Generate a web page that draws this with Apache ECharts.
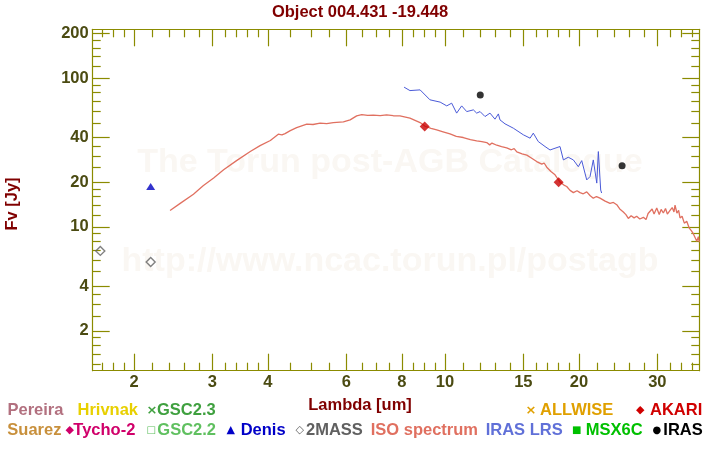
<!DOCTYPE html>
<html><head><meta charset="utf-8">
<script src="https://cdn.jsdelivr.net/npm/echarts@6/dist/echarts.min.js"></script>
<style>html,body{margin:0;padding:0;background:#fff}#c{width:720px;height:450px}</style>
</head><body><div id="c"></div>
<script>
// ---------- data (wavelength in um, flux in Jy) ----------
const isoSpectrum = [
 [2.41,12.9],[2.54,14.4],[2.72,16.6],[2.86,18.9],[3.02,21.3],[3.18,24.2],[3.40,27.9],[3.65,32.1],
 [3.84,35.2],[4.05,38.1],[4.22,42.0],[4.30,41.6],[4.37,42.4],[4.49,44.4],[4.64,46.5],[4.89,49.1],
 [5.05,48.8],[5.24,49.8],[5.42,49.4],[5.61,50.3],[5.91,50.8],[6.12,52.4],[6.33,55.8],[6.50,56.9],
 [6.70,56.2],[6.90,56.4],[7.15,56.0],[7.39,56.7],[7.65,55.9],[7.92,55.8],[8.34,53.8],[8.79,50.3],
 [9.02,47.5],[9.30,46.0],[9.58,44.9],[9.90,43.6],[10.26,42.2],[10.60,40.6],[10.99,39.9],[11.40,38.6],
 [11.78,37.9],[12.10,37.4],[12.41,36.9],[12.60,35.6],[12.75,36.6],[13.07,35.4],[13.40,34.6],[13.76,34.0],
 [14.10,33.0],[14.30,33.6],[14.50,31.9],[14.90,31.0],[15.27,30.4],[15.60,29.2],[16.07,27.5],[16.50,26.4],[16.70,26.9],[16.93,25.2],
 [17.30,23.6],[17.67,22.4],[18.13,20.0],[18.50,19.1],[18.77,18.7],[19.10,17.6],[19.43,17.0],[19.80,17.5],
 [20.11,17.0],[20.45,16.7],[20.82,17.2],[21.20,16.2],[21.54,15.6],[21.90,16.0],[22.30,15.6],[22.90,14.9],
 [23.49,14.4],[23.90,14.6],[24.32,14.1],[24.70,13.2],[25.16,12.6],[25.50,12.1],[25.82,11.4],[26.20,11.9],
 [26.60,11.5],[26.96,11.8],[27.40,11.3],[27.91,11.6],[28.30,11.2],[28.60,12.3],[28.89,12.0],[29.20,13.2],
 [29.50,12.2],[29.91,13.4],[30.30,12.1],[30.60,13.1],[30.95,12.4],[31.30,13.3],[31.60,12.2],[32.04,12.9],
 [32.40,13.5],[32.70,12.6],[32.88,14.0],[33.20,12.4],[33.50,12.9],[33.74,11.5],[34.10,11.8],[34.50,10.6],
 [34.93,10.9],[35.40,9.8],[35.80,9.4],[36.14,9.0],[36.50,8.9],[36.80,8.0],[37.10,8.6],[37.28,7.9]
];
const irasLrs = [
 [8.09,87.0],[8.34,82.5],[8.79,83.4],[9.25,71.5],[9.75,69.0],[10.09,65.1],[10.35,67.9],[10.62,58.2],
 [10.90,65.1],[11.19,59.6],[11.58,61.2],[11.78,58.2],[11.99,59.6],[12.30,55.2],[12.62,58.2],[12.95,53.0],
 [13.18,57.5],[13.29,52.4],[13.64,49.3],[14.24,46.1],[15.00,41.6],[15.53,39.5],[15.79,42.7],[16.20,37.5],
 [16.78,34.7],[17.22,32.9],[17.67,33.8],[18.13,34.7],[18.45,28.2],[18.92,29.4],[19.43,28.2],[19.93,25.4],
 [20.29,27.9],[20.82,20.7],[21.18,21.8],[21.54,28.2],[21.93,19.7],[22.11,32.1],[22.38,17.7],[22.49,16.9]
];
const twoMass = [[1.68,6.9],[2.18,5.8]];
const denis = [[2.18,18.7]];
const akari = [[9.0,47.3],[18.0,20.0]];
const iras = [[12.0,76.9],[25.0,25.8]];

const xMajorTicks = [2,3,4,6,8,10,15,20,30];
const xMinorTicks = [1.7,1.8,1.9,2.2,2.4,2.6,2.8,3.2,3.4,3.6,3.8,4.5,5,5.5,6.5,7,7.5,8.5,9,9.5,11,12,13,14,16,17,18,19,22,24,26,28,32,34,36];
const yMajorTicks = [2,4,10,20,40,100,200];
const yMinorTicks = [1.2,1.4,1.6,1.8,2.5,3,3.5,5,6,7,8,9,12,14,16,18,25,30,35,50,60,70,80,90,120,140,160,180];
const xRange = [1.615, 37.28];
const yRange = [1.08, 213];

const titleText = 'Object 004.431 -19.448';
const xTitle = 'Lambda [um]';
const yTitle = 'Fv [Jy]';
const watermark1 = 'The Torun post-AGB Catalogue';
const watermark2 = 'http://www.ncac.torun.pl/postagb';

const legendRow1 = [
 {sym:'', text:'Pereira', color:'#b2707f'},
 {sym:'', text:'Hrivnak', color:'#e8d000'},
 {sym:'×', text:'GSC2.3', color:'#3fa03f'},
 {sym:'×', text:'ALLWISE', color:'#e0a000'},
 {sym:'◆', text:'AKARI', color:'#d00000'}
];
const legendRow2 = [
 {sym:'', text:'Suarez', color:'#c8903c'},
 {sym:'◆', text:'Tycho-2', color:'#d0006a'},
 {sym:'□', text:'GSC2.2', color:'#60c060'},
 {sym:'▲', text:'Denis', color:'#0000c8'},
 {sym:'◇', text:'2MASS', color:'#606060'},
 {sym:'', text:'ISO spectrum', color:'#e07060'},
 {sym:'', text:'IRAS LRS', color:'#6070d8'},
 {sym:'■', text:'MSX6C', color:'#00c000'},
 {sym:'●', text:'IRAS', color:'#000000'}
];

// ---------- layout / style ----------
const row1X = [[null,7.5],[null,77.5],[146.5,157],[525.5,540],[636,650]];
const row2X = [[null,7.3],[65.5,73.3],[146.5,157.3],[226.5,240.7],[295.5,306],[null,370.7],[null,485.7],[572,585.7],[652.5,663.3]];
const FONT = "'Liberation Sans', Arial, Helvetica, sans-serif";
const AXIS = '#8b8b00';
const LABEL = '#4b4b12';
const lg = Math.log10;
const fmt = v => String(Number(Math.pow(10, v).toPrecision(6)));

function tickAxis(dim, pos, range, ticks, len, withLine, labels) {
  return {
    type: 'value', position: pos, min: lg(range[0]), max: lg(range[1]),
    splitLine: {show: false},
    axisLine: {show: withLine, onZero: false, lineStyle: {color: AXIS, width: 1.2}},
    axisTick: {show: true, inside: true, length: len, customValues: ticks.map(lg), lineStyle: {color: AXIS, width: 1.2}},
    axisLabel: labels ? {show: true, customValues: labels.map(lg), formatter: fmt, color: LABEL,
      fontFamily: FONT, fontWeight: 'bold', fontSize: 16.5, margin: dim === 'x' ? 3 : 4} : {show: false}
  };
}

const chart = echarts.init(document.getElementById('c'), null, {renderer: 'canvas'});

const graphics = [];
graphics.push({type:'text', z: 0, x: 390, y: 163, style:{text: watermark1, fill:'#faf7f3', font:"bold 34px "+FONT, align:'center', verticalAlign:'middle'}});
graphics.push({type:'text', z: 0, x: 390, y: 262, style:{text: watermark2, fill:'#faf7f3', font:"bold 34px "+FONT, align:'center', verticalAlign:'middle'}});
graphics.push({type:'text', z: 10, x: 360, y: 12, style:{text: titleText, fill:'#800000', font:"bold 16.5px "+FONT, align:'center', verticalAlign:'middle'}});
graphics.push({type:'text', z: 10, x: 360, y: 405, style:{text: xTitle, fill:'#800000', font:"bold 16.5px "+FONT, align:'center', verticalAlign:'middle'}});
graphics.push({type:'text', z: 10, x: 12, y: 204, rotation: Math.PI/2, style:{text: yTitle, fill:'#800000', font:"bold 16.5px "+FONT, align:'center', verticalAlign:'middle'}});

function addRow(items, xs, y) {
  items.forEach((it, i) => {
    const [sx, tx] = xs[i];
    if (it.sym) {
      const size = it.sym === '×' ? 13 : (it.sym === '●' || it.sym === '■' || it.sym === '□' ? 10 : 11);
      graphics.push({type:'text', z: 10, x: sx, y: y, style:{text: it.sym, fill: it.color, font: "bold "+size+"px 'DejaVu Sans', sans-serif", verticalAlign:'middle'}});
    }
    graphics.push({type:'text', z: 10, x: tx, y: y, style:{text: it.text, fill: it.color, font: "bold 16.5px "+FONT, verticalAlign:'middle'}});
  });
}
addRow(legendRow1, row1X, 410.5);
addRow(legendRow2, row2X, 430);

chart.setOption({
  animation: false,
  backgroundColor: '#ffffff',
  grid: {left: 92.7, right: 20.7, top: 29.3, bottom: 79.3, containLabel: false, outerBoundsMode: 'none'},
  xAxis: [
    {type: 'log', min: xRange[0], max: xRange[1], show: false},
    tickAxis('x', 'bottom', xRange, xMajorTicks, 17, true, xMajorTicks),
    tickAxis('x', 'bottom', xRange, xMinorTicks, 8, false, null),
    tickAxis('x', 'top', xRange, xMajorTicks, 17, true, null),
    tickAxis('x', 'top', xRange, xMinorTicks, 8, false, null)
  ],
  yAxis: [
    {type: 'log', min: yRange[0], max: yRange[1], show: false},
    tickAxis('y', 'left', yRange, yMajorTicks, 17, true, yMajorTicks),
    tickAxis('y', 'left', yRange, yMinorTicks, 8, false, null),
    tickAxis('y', 'right', yRange, yMajorTicks, 17, true, null),
    tickAxis('y', 'right', yRange, yMinorTicks, 8, false, null)
  ],
  graphic: graphics,
  series: [
    {type:'line', name:'ISO spectrum', data: isoSpectrum, xAxisIndex:0, yAxisIndex:0, showSymbol:false, symbol:'none',
      lineStyle:{color:'#e07060', width:1.3}, z: 3},
    {type:'line', name:'IRAS LRS', data: irasLrs, xAxisIndex:0, yAxisIndex:0, showSymbol:false, symbol:'none',
      lineStyle:{color:'#4a5ad8', width:1}, z: 3},
    {type:'scatter', name:'2MASS', data: twoMass, symbol:'diamond', symbolSize:9,
      itemStyle:{color:'rgba(0,0,0,0)', borderColor:'#606060', borderWidth:1.4}, z: 4},
    {type:'scatter', name:'Denis', data: denis, symbol:'triangle', symbolSize:[9,7],
      itemStyle:{color:'#0000c0'}, z: 4},
    {type:'scatter', name:'AKARI', data: akari, symbol:'diamond', symbolSize:10,
      itemStyle:{color:'#c80000'}, z: 4},
    {type:'scatter', name:'IRAS', data: iras, symbol:'circle', symbolSize:7,
      itemStyle:{color:'#000000'}, z: 4}
  ]
});
</script></body></html>
